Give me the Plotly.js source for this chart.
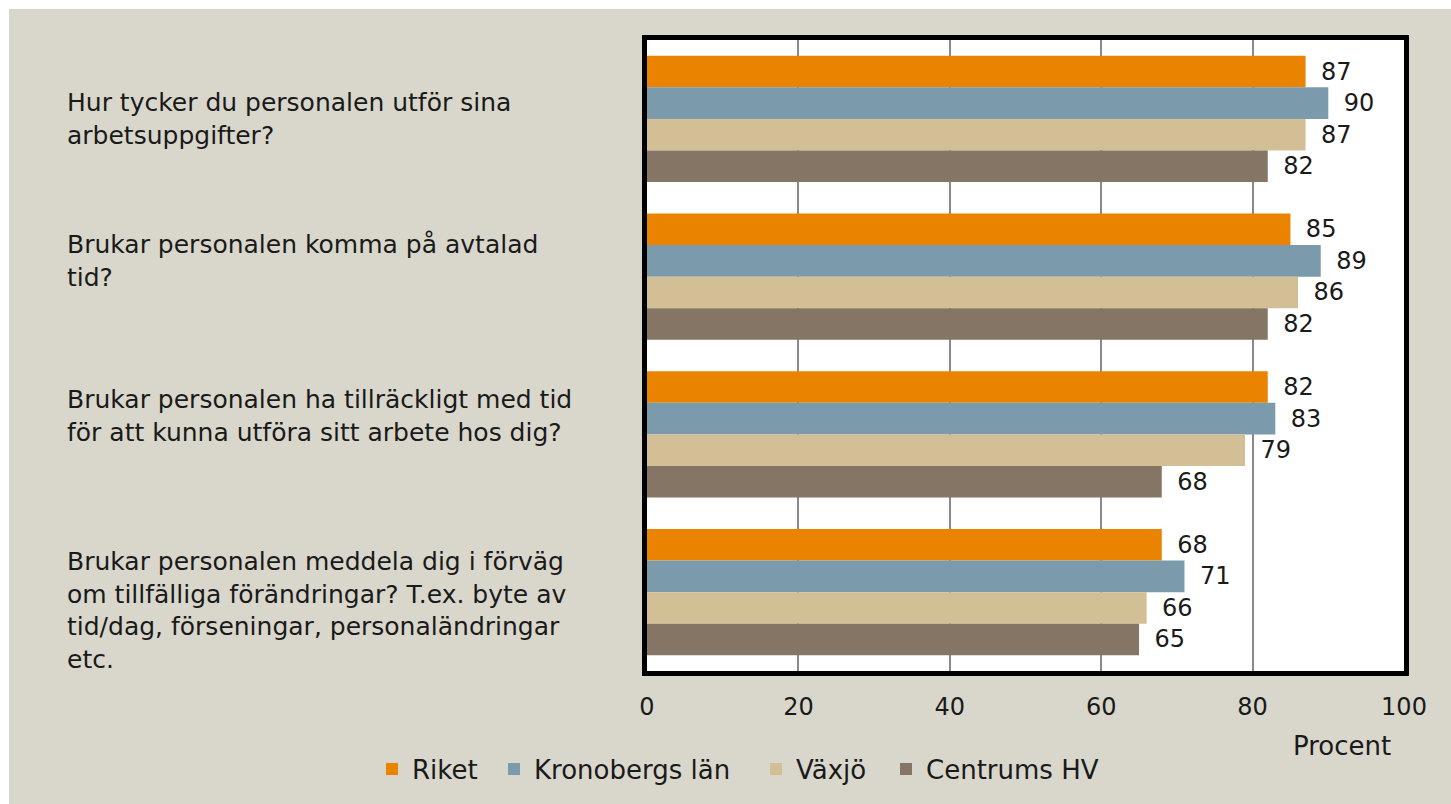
<!DOCTYPE html>
<html>
<head>
<meta charset="utf-8">
<script src="https://cdn.plot.ly/plotly-3.0.1.min.js"></script>
<style>
  html, body { margin: 0; padding: 0; background: #ffffff; width: 1451px; height: 804px; overflow: hidden; }
  #chart { position: absolute; left: 9px; top: 9px; width: 1442px; height: 795px; }
</style>
</head>
<body>
<div id="chart"></div>
<script>
// ---- data ----
const categories = [
  "Hur tycker du personalen utför sina arbetsuppgifter?",
  "Brukar personalen komma på avtalad tid?",
  "Brukar personalen ha tillräckligt med tid för att kunna utföra sitt arbete hos dig?",
  "Brukar personalen meddela dig i förväg om tillfälliga förändringar? T.ex. byte av tid/dag, förseningar, personaländringar etc."
];
const categoryLabels = [
  "Hur tycker du personalen utför sina<br>arbetsuppgifter?",
  "Brukar personalen komma på avtalad<br>tid?",
  "Brukar personalen ha tillräckligt med tid<br>för att kunna utföra sitt arbete hos dig?",
  "Brukar personalen meddela dig i förväg<br>om tillfälliga förändringar? T.ex. byte av<br>tid/dag, förseningar, personaländringar<br>etc."
];
const seriesNames = ["Riket", "Kronobergs län", "Växjö", "Centrums HV"];
const riket = [87, 85, 82, 68];
const kronoberg = [90, 89, 83, 71];
const vaxjo = [87, 86, 79, 66];
const centrums = [82, 82, 68, 65];
const tickValues = [0, 20, 40, 60, 80, 100];
const axisTitle = "Procent";

// ---- style ----
const colors = ["#e98300", "#7b9aab", "#d3bf96", "#857565"];
const legendWidths = [77, 217, 85, 175];
const FONT = "DejaVu Sans, sans-serif";
const TXT = "#1a1a1a";
const W = 1442, H = 795;
const M = { l: 638, r: 47, t: 31, b: 133 };
const plotW = W - M.l - M.r, plotH = H - M.t - M.b;
const px2x = p => (p - M.l) / plotW;
const py2y = p => (H - M.b - p) / plotH;

const seriesData = [riket, kronoberg, vaxjo, centrums];
const traces = seriesData.map((vals, i) => ({
  type: "bar",
  orientation: "h",
  name: seriesNames[i],
  x: vals,
  y: categories,
  marker: { color: colors[i], line: { width: 0 } },
  text: vals.map(v => String(v)),
  texttemplate: "\u00a0\u2009%{text}",
  textposition: "outside",
  constraintext: "none",
  cliponaxis: false,
  textfont: { family: FONT, size: 24, color: TXT },
  legendwidth: legendWidths[i],
  hoverinfo: "skip"
}));

const labelShift = [0, 16, 18, -18];
const annotations = categoryLabels.map((t, i) => ({
  text: t,
  xref: "paper", yref: "y",
  x: px2x(56), y: categories[i],
  xanchor: "left", yanchor: "middle", align: "left",
  yshift: labelShift[i],
  showarrow: false,
  font: { family: FONT, size: 25, color: TXT }
}));
annotations.push({
  text: axisTitle,
  xref: "paper", yref: "paper",
  x: px2x(1333), y: py2y(737),
  xanchor: "center", yanchor: "middle",
  showarrow: false,
  font: { family: FONT, size: 26, color: TXT }
});

const layout = {
  width: W, height: H,
  margin: M,
  paper_bgcolor: "#d9d7cc",
  plot_bgcolor: "#ffffff",
  barmode: "group",
  bargap: 0.2,
  bargroupgap: 0,
  showlegend: true,
  legend: {
    orientation: "h",
    x: px2x(363), xanchor: "left",
    y: py2y(760), yanchor: "middle",
    font: { family: FONT, size: 26, color: TXT },
    bgcolor: "rgba(0,0,0,0)",
    itemwidth: 30,
    tracegroupgap: 0
  },
  xaxis: {
    range: [0, 100],
    tickvals: tickValues,
    ticktext: tickValues.map(String),
    showgrid: true, gridcolor: "#8a8a8a", gridwidth: 2,
    zeroline: false,
    showline: true, linecolor: "#000000", linewidth: 5, mirror: true,
    ticks: "", ticklabelstandoff: 10,
    tickfont: { family: FONT, size: 24, color: TXT },
    fixedrange: true
  },
  yaxis: {
    type: "category",
    autorange: "reversed",
    showticklabels: false,
    showgrid: false, zeroline: false,
    showline: true, linecolor: "#000000", linewidth: 5, mirror: true,
    ticks: "",
    fixedrange: true
  },
  annotations: annotations
};

Plotly.newPlot("chart", traces, layout, { displayModeBar: false, staticPlot: true });
</script>
</body>
</html>
